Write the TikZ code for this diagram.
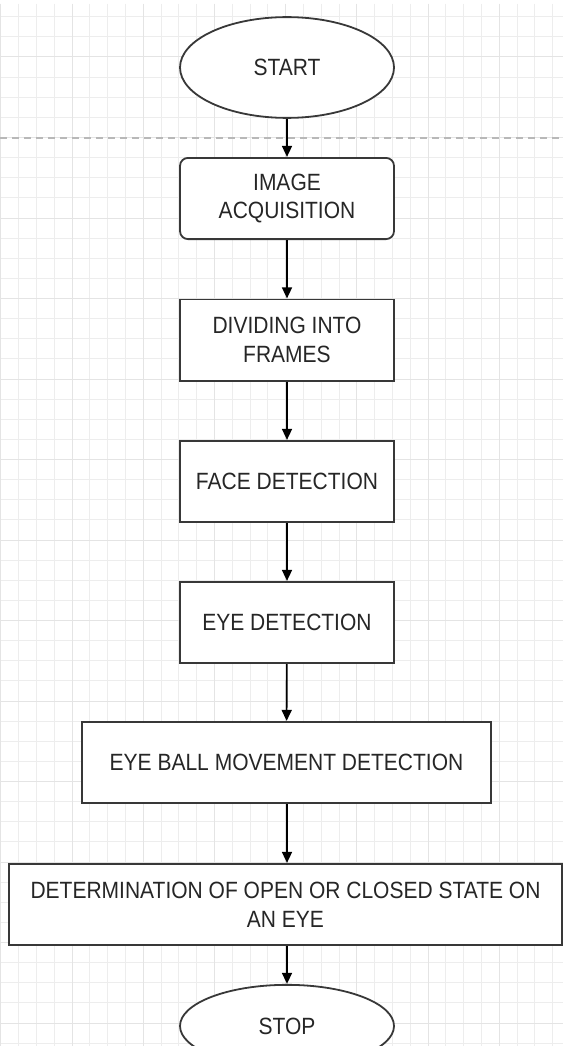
\documentclass[tikz,border=0pt]{standalone}
\usepackage{fontspec}
\setmainfont{Liberation Sans}
\usetikzlibrary{arrows.meta,shapes.geometric}
\definecolor{gridminor}{HTML}{EDEDED}
\definecolor{gridmajor}{HTML}{E4E4E4}
\definecolor{dashcol}{HTML}{B8B8B8}
\definecolor{boxline}{HTML}{383838}
\definecolor{txt}{HTML}{262626}
\tikzset{
  minorline/.style={draw=gridminor, line width=1pt},
  majorline/.style={draw=gridmajor, line width=1pt},
  sepline/.style={draw=dashcol, line width=1.3pt, dash pattern=on 7pt off 5pt},
  basebox/.style={draw=boxline, fill=white, line width=1.8pt, transform shape, yscale=1.12,
    align=center, inner sep=0pt, text=txt, font=\fontsize{21}{25.5}\selectfont},
  procbox/.style={basebox, rectangle, minimum width=214pt, minimum height=72.5pt},
  roundbox/.style={procbox, rounded corners=8pt},
  termbox/.style={basebox, ellipse, minimum width=214pt, minimum height=90pt},
  arr/.style={draw=black, line width=1.6pt, -{Triangle[length=11pt,width=10pt]}}
}
\begin{document}
\begin{tikzpicture}[x=1pt,y=-1pt]
\useasboundingbox (0,0) rectangle (563,1046);
\clip (0,0) rectangle (563,1046);
\fill[white] (0,0) rectangle (563,1046);
% grid
\foreach \i in {0,...,32} {\draw[minorline] ({0.8+17.8*\i},4) -- ({0.8+17.8*\i},1046);}
\foreach \j in {-2,...,50} {\draw[minorline] (0,{57+20.125*\j}) -- (563,{57+20.125*\j});}
\foreach \i in {0,...,8} {\draw[majorline] ({0.8+71.2*\i},4) -- ({0.8+71.2*\i},1046);}
\foreach \j in {0,...,12} {\draw[majorline] (0,{57+80.5*\j}) -- (563,{57+80.5*\j});}
% dashed separator
\coordinate (dl) at (0,138);
\coordinate (dr) at (563,138);
\draw[sepline] (dl) -- (dr);
% nodes
\node[termbox] (start) at (287,67.5) {START};
\node[roundbox] (img) at (287,198.5) {IMAGE\\ACQUISITION};
\node[procbox] (div) at (287,340) {DIVIDING INTO\\FRAMES};
\node[procbox] (face) at (287,481.5) {FACE DETECTION};
\node[procbox] (eyed) at (287,622.5) {EYE DETECTION};
\node[procbox, minimum width=409pt] (ball) at (286.5,762.5) {EYE BALL MOVEMENT DETECTION};
\node[procbox, minimum width=553pt] (det) at (285.5,904.5) {DETERMINATION OF OPEN OR CLOSED STATE ON\\AN EYE};
\node[termbox, minimum height=73.5pt] (stop) at (287,1026) {STOP};
% arrows
\draw[arr] (start) -- (img);
\draw[arr] (img) -- (div);
\draw[arr] (div) -- (face);
\draw[arr] (face) -- (eyed);
\draw[arr] (eyed) -- (ball);
\draw[arr] (ball.south -| eyed.south) -- (det.north -| eyed.south);
\draw[arr] (det.south -| eyed.south) -- (stop);
\end{tikzpicture}
\end{document}
